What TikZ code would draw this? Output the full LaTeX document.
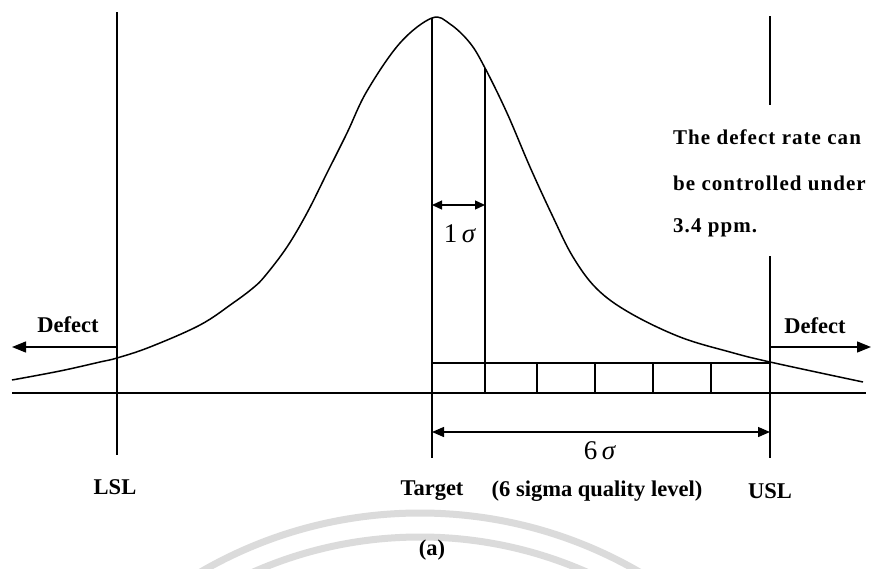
\documentclass[tikz,border=0pt]{standalone}
\usepackage{fontspec}
\setmainfont{Liberation Serif}
\usetikzlibrary{arrows.meta}
\begin{document}
\begin{tikzpicture}[x=1pt,y=-1pt,
  ln/.style={line width=1.3pt,black},
  crv/.style={line width=1.5pt,black},
  lbl/.style={font=\fontsize{22.5}{26}\selectfont\bfseries, inner sep=0pt},
  note/.style={font=\fontsize{21}{26}\selectfont\bfseries\addfontfeature{LetterSpace=5}, inner sep=0pt, anchor=west},
  sig/.style={font=\fontsize{27}{30}\selectfont, inner sep=0pt},
  bigtip/.style={-{Triangle[length=14pt,width=11pt]}},
  dimtip/.style={{Triangle[length=12pt,width=10pt]}-{Triangle[length=12pt,width=10pt]}},
  smalltip/.style={{Triangle[length=10pt,width=9pt]}-{Triangle[length=10pt,width=9pt]}},
  wm/.style={line width=7pt, black!14}]
\useasboundingbox (0,0) rectangle (872,568);
\fill[white] (0,0) rectangle (872,568);
% watermark rings
\begin{scope}
  \clip (0,0) rectangle (872,568);
  \draw[wm] (420,950) circle[radius=437pt];
  \draw[wm] (420,950) circle[radius=413pt];
\end{scope}
% coordinates
\coordinate (axL) at (12,393);
\coordinate (axR) at (866,393);
\coordinate (lslT) at (117,12);
\coordinate (lslB) at (117,455);
\coordinate (tgT) at (432,18);
\coordinate (tgB) at (432,458);
\coordinate (s1T) at (485,68);
\coordinate (s1B) at (485,393);
\coordinate (uslA) at (770,16);
\coordinate (uslB) at (770,105);
\coordinate (uslC) at (770,256);
\coordinate (uslD) at (770,458);
\coordinate (scL) at (432,363);
\coordinate (scR) at (770,363);
\coordinate (dLs) at (117,347);
\coordinate (dLe) at (12,347);
\coordinate (dRs) at (770,347);
\coordinate (dRe) at (871,347);
\coordinate (sixL) at (432,432);
\coordinate (sixR) at (770,432);
\coordinate (oneL) at (432,205);
\coordinate (oneR) at (485,205);
% lines
\draw[ln] (axL) -- (axR);
\draw[ln] (lslT) -- (lslB);
\draw[ln] (tgT) -- (tgB);
\draw[ln] (s1T) -- (s1B);
\draw[ln] (uslA) -- (uslB);
\draw[ln] (uslC) -- (uslD);
\draw[ln] (scL) -- (scR);
\foreach \x/\n in {537/a,595/b,653/c,711/d}{
  \coordinate (tk\n T) at (\x,363);
  \coordinate (tk\n B) at (\x,393);
  \draw[ln] (tk\n T) -- (tk\n B);
}
% curve
\draw[crv] plot[smooth, tension=0.6] coordinates {
 (12,380) (60,371) (100,362) (117,358) (150,347) (200,325) (233,303) (253,288)
 (265,276) (287,247) (307,213) (327,173) (347,133) (367,91) (400,43) (432,18)
 (450,24) (470,43) (485,68) (507,113) (530,167) (553,217) (573,257) (597,289)
 (630,313) (680,337) (730,352) (770,362) (863,382)};
% arrows
\draw[ln,bigtip] (dLs) -- (dLe);
\draw[ln,bigtip] (dRs) -- (dRe);
\draw[ln,dimtip] (sixL) -- (sixR);
\draw[ln,smalltip] (oneL) -- (oneR);
% labels
\node[lbl] (defL) at (68,325) {Defect};
\node[lbl] (defR) at (815,326) {Defect};
\node[lbl] (lsl) at (115,487) {LSL};
\node[lbl] (tgt) at (432,491) {Target};
\node[lbl] (lev) at (597,491) {(6 sigma quality level)};
\node[lbl] (usl) at (770,491) {USL};
\node[lbl] (cap) at (432,550) {(a)};
\node[sig] (six) at (600,451) {6\,\textit{σ}};
\node[sig] (one) at (460,234) {1\,\textit{σ}};
\node[note] (n1) at (673,137) {The defect rate can};
\node[note] (n2) at (673,183) {be controlled under};
\node[note] (n3) at (673,228) {3.4 ppm.};
\end{tikzpicture}
\end{document}
